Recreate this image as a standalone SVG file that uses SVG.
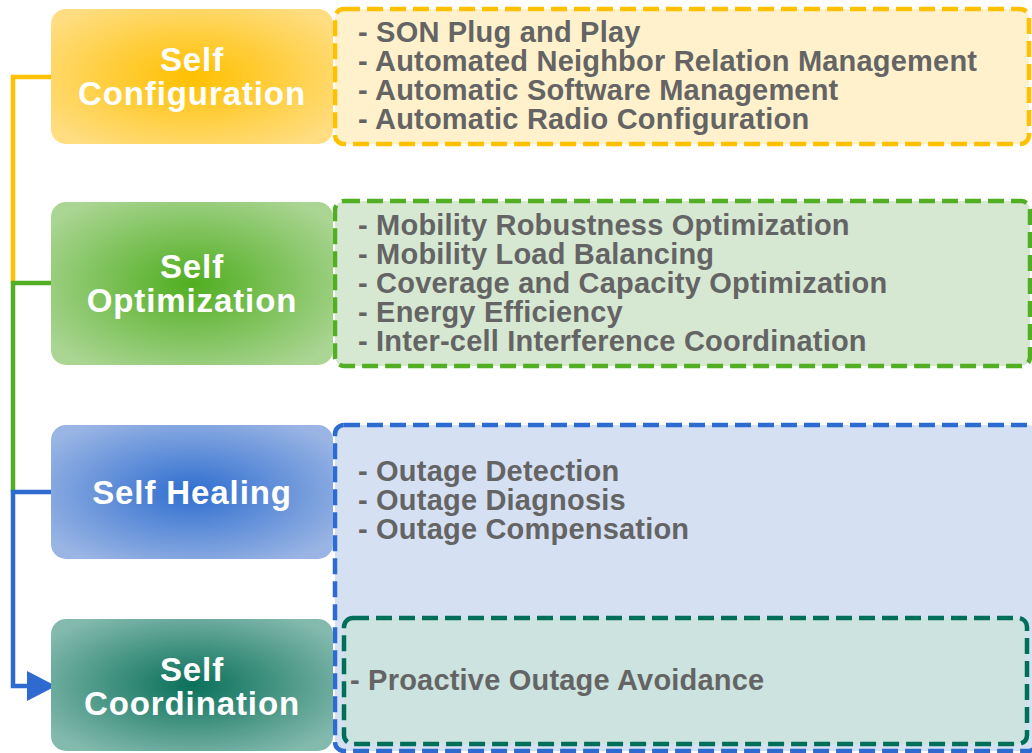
<svg xmlns="http://www.w3.org/2000/svg" width="1032" height="753" viewBox="0 0 1032 753">
<defs>
<radialGradient id="gY" cx="0.5" cy="0.5" r="0.62"><stop offset="0" stop-color="#FFC000"/><stop offset="1" stop-color="#FFDD80"/></radialGradient>
<radialGradient id="gG" cx="0.5" cy="0.5" r="0.62"><stop offset="0" stop-color="#50AE20"/><stop offset="1" stop-color="#AAD593"/></radialGradient>
<radialGradient id="gB" cx="0.5" cy="0.5" r="0.62"><stop offset="0" stop-color="#2F6ECF"/><stop offset="1" stop-color="#9AB5E4"/></radialGradient>
<radialGradient id="gT" cx="0.5" cy="0.5" r="0.62"><stop offset="0" stop-color="#0A705A"/><stop offset="1" stop-color="#84BAAE"/></radialGradient>
<marker id="arr" markerUnits="userSpaceOnUse" markerWidth="30" markerHeight="32" refX="0" refY="15" orient="auto"><path d="M0,0 L29,15 L0,30 Z" fill="#2E6BD0"/></marker>
</defs>
<style>
.node-title{font-family:"Liberation Sans",Arial,sans-serif;font-weight:bold;font-size:33px;letter-spacing:0.9px;fill:#fff;text-anchor:middle}
.item{font-family:"Liberation Sans",Arial,sans-serif;font-weight:bold;font-size:29px;letter-spacing:0.2px;fill:#646464}
.dash{stroke-width:4.5;stroke-dasharray:16 7}
.conn{fill:none;stroke-width:4.5}
</style>
<rect width="1032" height="753" fill="#fff"/>
<g id="connectors">
<path class="conn" d="M51,77 H13 V283" stroke="#FFC000"/>
<path class="conn" d="M51,283 H13 V492" stroke="#52AE22"/>
<path class="conn" d="M51,492 H13 V686 H27" stroke="#2E6BD0" marker-end="url(#arr)"/>
</g>
<g id="details-config">
<rect class="dash" x="335" y="9" width="694" height="135" rx="9" fill="#FFF1CC" stroke="#FFC000"/>
<text class="item" x="358" y="42">- SON Plug and Play</text>
<text class="item" x="358" y="71">- Automated Neighbor Relation Management</text>
<text class="item" x="358" y="100">- Automatic Software Management</text>
<text class="item" x="358" y="129">- Automatic Radio Configuration</text>
</g>
<g id="details-opt">
<rect class="dash" x="335" y="201" width="695" height="165" rx="9" fill="#D6E8D2" stroke="#52AE22"/>
<text class="item" x="358" y="235">- Mobility Robustness Optimization</text>
<text class="item" x="358" y="264">- Mobility Load Balancing</text>
<text class="item" x="358" y="293">- Coverage and Capacity Optimization</text>
<text class="item" x="358" y="322">- Energy Efficiency</text>
<text class="item" x="358" y="351">- Inter-cell Interference Coordination</text>
</g>
<g id="details-heal">
<rect class="dash" x="335" y="425" width="702" height="326" rx="9" fill="#D5E0F3" stroke="#2E6BD0"/>
<text class="item" x="358" y="481">- Outage Detection</text>
<text class="item" x="358" y="510">- Outage Diagnosis</text>
<text class="item" x="358" y="539">- Outage Compensation</text>
</g>
<g id="details-coord">
<rect class="dash" x="344" y="618" width="683" height="126" rx="9" fill="#CCE3DF" stroke="#006F5A"/>
<text class="item" x="350" y="690">- Proactive Outage Avoidance</text>
</g>
<g id="node-config">
<rect x="51" y="9" width="282" height="135" rx="15" fill="url(#gY)"/>
<text class="node-title" x="192" y="71">Self</text>
<text class="node-title" x="192" y="105">Configuration</text>
</g>
<g id="node-opt">
<rect x="51" y="202" width="282" height="163" rx="15" fill="url(#gG)"/>
<text class="node-title" x="192" y="278">Self</text>
<text class="node-title" x="192" y="312">Optimization</text>
</g>
<g id="node-heal">
<rect x="51" y="425" width="282" height="134" rx="15" fill="url(#gB)"/>
<text class="node-title" x="192" y="504">Self Healing</text>
</g>
<g id="node-coord">
<rect x="51" y="619" width="282" height="132" rx="15" fill="url(#gT)"/>
<text class="node-title" x="192" y="681">Self</text>
<text class="node-title" x="192" y="715">Coordination</text>
</g>
</svg>
